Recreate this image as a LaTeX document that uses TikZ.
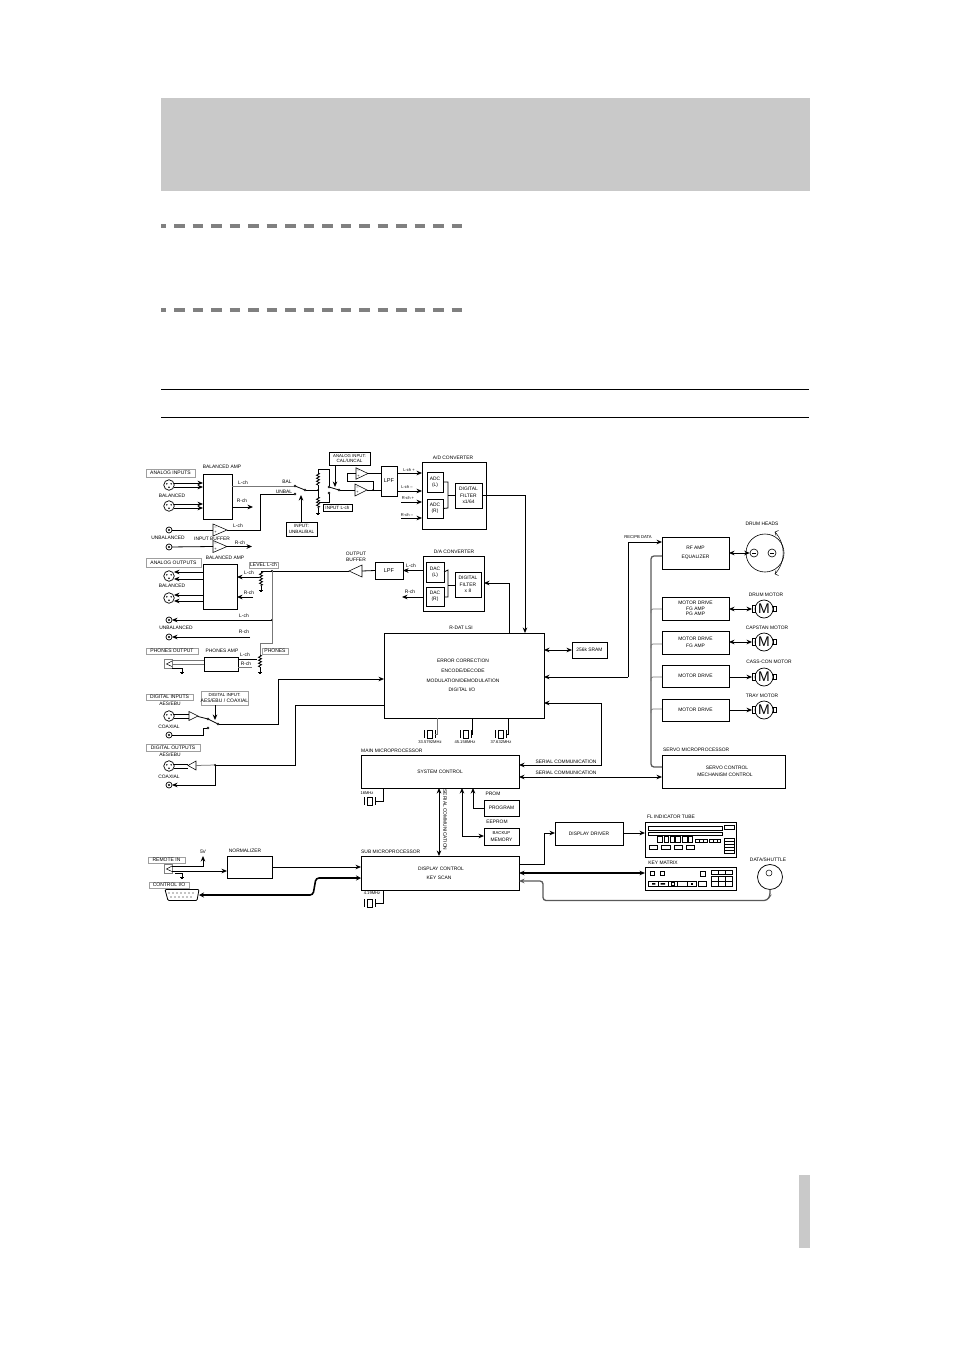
\documentclass[tikz,border=0pt]{standalone}
\usepackage{fontspec}
\setmainfont{Liberation Sans}
\usetikzlibrary{arrows.meta,fit,calc,decorations.pathmorphing}
\definecolor{bandgray}{HTML}{C9C9C9}
\definecolor{dashgray}{HTML}{808080}
\definecolor{thingray}{HTML}{777777}
\newcounter{tc}
\tikzset{
  ln/.style={line width=.8pt},
  gl/.style={line width=.75pt,color=thingray},
  busln/.style={line width=1.3pt,color=thingray!75!black},
  fatln/.style={line width=1.6pt},
  tp/.style={-{Stealth[length=5.5pt,width=4.6pt]}},
  rp/.style={{Stealth[length=5.5pt,width=4.6pt]}-},
  dp/.style={{Stealth[length=5.5pt,width=4.6pt]}-{Stealth[length=5.5pt,width=4.6pt]}},
  lbl/.style={inner sep=0pt,align=center,font=\fontsize{4.9}{6.4}\selectfont},
  tinylbl/.style={inner sep=0pt,align=center,font=\fontsize{4.1}{5}\selectfont},
  bx/.style={draw,line width=.8pt,inner sep=0pt,outer sep=0pt},
  fr/.style={draw=gray!75,line width=.6pt,inner sep=0pt,outer sep=0pt},
  frk/.style={draw,line width=.75pt,inner sep=0pt,outer sep=0pt},
  bxt/.style={inner sep=0pt,align=center,font=\fontsize{4.9}{6.4}\selectfont},
  frt/.style={inner sep=0pt,align=center,font=\fontsize{5}{6}\selectfont},
  kt/.style={inner sep=0pt,align=center,font=\fontsize{4.6}{5.8}\selectfont},
  zig/.style={ln,decorate,decoration={zigzag,amplitude=1.5pt,segment length=3pt}},
  jdot/.style={circle,fill,inner sep=0pt,minimum size=2.4pt},
  cpin/.style={circle,draw,line width=.4pt,inner sep=0pt,minimum size=2pt,fill=white},
  xlrs/.style={circle,draw,line width=.7pt,inner sep=0pt,minimum size=10.5pt,outer sep=0pt},
  jk/.style={circle,draw,line width=.7pt,inner sep=0pt,minimum size=6pt,outer sep=0pt},
  mot/.style={circle,draw,line width=.7pt,inner sep=0pt,minimum size=18pt,outer sep=0pt,font=\fontsize{14}{14}\selectfont},
  dashbar/.style={line width=4pt,color=dashgray,dash pattern=on 10.5pt off 8pt}
}
\newcommand\T[3]{\stepcounter{tc}\node[lbl] (t\thetc) at (#1,#2) {#3};}
\newcommand\Ts[3]{\stepcounter{tc}\node[tinylbl] (t\thetc) at (#1,#2) {#3};}
\newcommand\B[6]{\node[bx,fit={(#2,#3)(#4,#5)}] (#1) {}; \node[bxt] (#1-t) at (#1.center) {#6};}
\newcommand\F[6]{\node[fr,fit={(#2,#3)(#4,#5)}] (#1) {}; \node[frt] (#1-t) at (#1.center) {#6};}
\newcommand\K[6]{\node[frk,fit={(#2,#3)(#4,#5)}] (#1) {}; \node[kt] (#1-t) at (#1.center) {#6};}
\newcommand\XLR[3]{\node[xlrs] (#1) at (#2,#3) {};
  \fill (#2-2.2,#3-1.2) circle (.8pt) (#2+2.2,#3-1.2) circle (.8pt) (#2,#3+2.2) circle (.8pt);}
\newcommand\JK[3]{\node[jk] (#1) at (#2,#3) {}; \fill (#2,#3) circle (1.2pt);}
% op-amp pointing right: name, x left, y centre, half height, x tip
\newcommand\OPR[5]{\coordinate (#1-in) at (#2,#3); \coordinate (#1-out) at (#5,#3);
  \draw[line width=.55pt,fill=white] (#2,#3-#4) -- (#5,#3) -- (#2,#3+#4) -- cycle;}
\newcommand\OPM[5]{\OPR{#1}{#2}{#3}{#4}{#5}
  \node[inner sep=0pt,font=\fontsize{4}{4}\selectfont] at (#2+2.5,#3-2.3) {--};
  \node[inner sep=0pt,font=\fontsize{4}{4}\selectfont] at (#2+2.5,#3+2.5) {+};}
\newcommand\Gnd[2]{\draw[ln] (#1-1.6,#2) -- (#1+1.6,#2) (#1-.9,#2+1) -- (#1+.9,#2+1);}
\newcommand\Xtal[4]{% name, left plate x, y centre, half height
  \draw[ln] (#2,#3-#4) -- (#2,#3+#4) (#2+11,#3-#4) -- (#2+11,#3+#4);
  \draw[line width=.6pt] (#2+3,#3-#4) rectangle (#2+8,#3+#4);
  \coordinate (#1) at (#2+11,#3);}
\newcommand\Motor[3]{\node[mot] (#1) at (#2,#3) {M};
  \node[draw,line width=.7pt,inner sep=0pt,minimum width=3pt,minimum height=7pt,outer sep=0pt] (#1-l) at (#2-10.5,#3) {};
  \node[draw,line width=.7pt,inner sep=0pt,minimum width=3pt,minimum height=4.5pt,outer sep=0pt] (#1-r) at (#2+10.5,#3) {};}
\newcommand\PLJ[3]{\node[draw=gray,line width=.6pt,inner sep=0pt,minimum width=8pt,minimum height=9pt,outer sep=0pt] (#1) at (#2,#3) {};
  \draw[line width=.5pt] (#2+4,#3-3) -- (#2-1.5,#3) -- (#2+4,#3+2.5);}
\begin{document}
\begin{tikzpicture}[x=1pt,y=-1pt]
\useasboundingbox (0,0) rectangle (954,1351);
% page furniture
\fill[bandgray] (161,98) rectangle (810,191);
\fill[bandgray] (799,1175) rectangle (810,1248);
\fill[dashgray] (161,224) rectangle (166,228);
\draw[dashbar] (174,226) -- (463,226);
\fill[dashgray] (161,308) rectangle (166,312);
\draw[dashbar] (174,310) -- (463,310);
\draw[line width=.7pt] (161,389) -- (809,389) (161,417) -- (809,417);

%% ===== analogue inputs
\F{lAI}{146}{469}{195}{477}{ANALOG INPUTS}
\T{222}{467}{BALANCED AMP}
\B{bal1}{203}{474}{232}{519}{}
\XLR{xi1}{169}{485}
\XLR{xi2}{169}{506}
\T{172}{496}{BALANCED}
\foreach \ya in {483,487,504,508}
  \draw[ln,tp] (174,\ya) -- (bal1.west |- 0,\ya);
\JK{ji1}{169}{530}
\JK{ji2}{169}{547}
\T{168}{538}{UNBALANCED}
\T{212}{539}{INPUT BUFFER}
\OPM{ib1}{213}{530}{6}{227}
\OPM{ib2}{213}{546.5}{6}{227}
\draw[ln] (ji1) -- (ib1-in);
\draw[ln] (ji2) -- (ib2-in);
\T{243}{483}{L-ch}
\T{242}{501}{R-ch}
\T{238}{526}{L-ch}
\T{240}{543}{R-ch}
\draw[ln,tp] (bal1.east |- 0,507) -- (253,507);
\draw[ln,tp] (ib2-out) -- (252,546.5);
% input switch
\node[cpin] (c1) at (295,486) {};
\node[cpin] (c2) at (295,494) {};
\node[cpin] (c3) at (305,490) {};
\draw[gl] (bal1.east |- c1) -- (c1);
\draw[ln] (ib1-out) -- (260,530) -- (260,494) -- (c2);
\draw[ln] (c1) -- (c3);
\T{287}{482}{BAL}
\T{284}{492}{UNBAL}
\K{lUB}{286}{522}{317}{536}{INPUT:\\UNBAL/BAL}
\draw[ln,tp] (lUB.north -| 301,0) -- (301,495);
% input level pots
\coordinate (p1t) at (318,469);
\coordinate (p1j) at (318,490);
\coordinate (p1b) at (318,513);
\draw[ln] (c3) -- (p1j);
\draw[ln] (p1t) -- (318,473);
\draw[zig] (318,473) -- (318,485);
\draw[ln] (318,485) -- (318,497);
\draw[zig] (318,497) -- (318,508);
\draw[ln] (318,508) -- (p1b);
\Gnd{318}{513}
\node[jdot,minimum size=2pt] at (p1j) {};
\node[cpin] (d1) at (329,487) {};
\node[cpin] (d2) at (329,493) {};
\node[cpin] (d3) at (339,490) {};
\draw[ln] (p1t) -- (329,469) -- (d1);
\draw[ln] (d2) -- (329,502) -- (319,502);
\draw[ln] (d1) -- (d3);
\K{lCAL}{329}{452}{370}{465}{\fontsize{4.3}{4.8}\selectfont ANALOG INPUT:\\CAL/UNCAL}
\draw[ln,tp] (lCAL.south -| 335,0) -- (335,487);
\K{lIL}{323}{504}{352}{511}{INPUT L-ch}
\OPM{o1}{356}{473.5}{5.7}{368}
\OPM{o2}{355}{490}{6}{367}
\draw[ln] (d3) -- (o2-in);
\coordinate (fbj) at (373,490);
\draw[ln] (356,473) -- (347,473) -- (347,481) -- (373,481) -- (fbj);
\node[jdot,minimum size=2pt] at (fbj) {};
\B{lpf1}{381}{466}{397}{496}{\fontsize{5.6}{6}\selectfont LPF}
\draw[ln] (o1-out) -- (lpf1.west |- o1-out);
\draw[ln] (o2-out) -- (lpf1.west |- o2-out);
%% A/D
\T{453}{458}{A/D CONVERTER}
\B{ad}{422}{462}{486}{529}{}
\B{adcl}{427}{472}{443}{492}{ADC\\(L)}
\B{adcr}{427}{499}{443}{518}{ADC\\(R)}
\B{dfa}{455}{483}{482}{508}{DIGITAL\\FILTER\\x1/64}
\draw[ln,tp] (lpf1.east |- 0,473) -- (ad.west |- 0,473);
\draw[ln,tp] (lpf1.east |- 0,491) -- (ad.west |- 0,491);
\draw[ln,tp] (401,502) -- (ad.west |- 0,502);
\draw[ln,tp] (401,518) -- (ad.west |- 0,518);
\Ts{409}{470}{L-ch +}
\Ts{407}{487}{L-ch --}
\Ts{408}{498}{R-ch +}
\Ts{407}{515}{R-ch --}
\draw[ln] (adcl.east) -- (448,482) -- (448,508) -- (adcr.east);
\draw[ln] (448,495.5) -- (dfa.west |- 0,495.5);
%% analogue outputs
\F{lAO}{146}{558}{201}{567}{ANALOG OUTPUTS}
\T{225}{558}{BALANCED AMP}
\B{bal2}{203}{564}{237}{609}{}
\XLR{xo1}{169}{576}
\XLR{xo2}{169}{598}
\T{172}{586}{BALANCED}
\foreach \ya in {572,579,595,601}
  \draw[ln,tp] (bal2.west |- 0,\ya) -- (174,\ya);
\F{lLV}{249}{562}{278}{568}{LEVEL L-ch}
\coordinate (lvt) at (261,571);
\coordinate (jn1) at (272,571);
\draw[ln] (lvt) -- (jn1);
\draw[zig] (261,572) -- (261,586);
\draw[ln] (261,586) -- (261,590);
\Gnd{261}{590}
\draw[ln,tp] (259,577) -- (bal2.east |- 0,577);
\draw[ln,tp] (253,597) -- (bal2.east |- 0,597);
\T{249}{573}{L-ch}
\T{249}{593}{R-ch}
\node[jdot] at (jn1) {};
%% output buffer, LPF, D/A
\T{356}{557}{OUTPUT\\BUFFER}
\coordinate (ob-in) at (362,571);
\coordinate (ob-out) at (349,571);
\draw[line width=.55pt,fill=white] (362,565) -- (349,571) -- (362,577) -- cycle;
\draw[ln] (jn1) -- (ob-out);
\B{lpf2}{375}{562}{403}{579}{\fontsize{5.6}{6}\selectfont LPF}
\draw[ln] (ob-in) -- (lpf2.west);
\T{454}{552}{D/A CONVERTER}
\B{da}{423}{556}{484}{611}{}
\B{dacl}{426}{562}{444}{582}{DAC\\(L)}
\B{dacr}{426}{587}{444}{606}{DAC\\(R)}
\B{dfd}{455}{572}{481}{597}{DIGITAL\\FILTER\\x 8}
\draw[ln,tp] (da.west |- lpf2.east) -- (lpf2.east);
\draw[ln,tp] (da.west |- 0,597) -- (402,597);
\T{411}{566}{L-ch}
\T{410}{592}{R-ch}
\draw[ln] (dacl.east) -- (448,570) -- (448,597) -- (dacr.east |- 0,597);
\draw[ln] (448,585) -- (dfd.west |- 0,585);
%% unbalanced and phones
\JK{ju1}{169}{620}
\JK{ju2}{169}{637}
\T{176}{628}{UNBALANCED}
\coordinate (jn2) at (272,620);
\draw[ln,tp] (jn2) -- (ju1.east);
\draw[ln,tp] (250,637) -- (ju2.east);
\node[jdot] at (jn2) {};
\T{244}{616}{L-ch}
\T{244}{632}{R-ch}
\draw[gl] (jn1) -- (272,643) -- (260,643) -- (260,655);
\F{lPO}{146}{648}{198}{654}{PHONES OUTPUT}
\T{222}{651}{PHONES AMP}
\B{pha}{204}{657}{238}{671}{}
\F{lPH}{262}{648}{288}{654}{PHONES}
\draw[zig] (260,655) -- (260,667);
\draw[ln] (260,667) -- (260,672);
\Gnd{260}{672}
\draw[ln] (pha.east |- 0,659) -- (257,659);
\draw[gl] (pha.east |- 0,667) -- (252,667);
\T{245}{655}{L-ch}
\T{246}{664}{R-ch}
\PLJ{pj}{168}{664}
\draw[gl] (172,660) -- (pha.west |- 0,660);
\draw[gl] (172,664) -- (pha.west |- 0,664);
\draw[ln] (172,668) -- (182,668) -- (182,672);
\Gnd{182}{672}
%% digital in
\F{lDI}{146}{694}{193}{700}{DIGITAL INPUTS}
\T{170}{704}{AES/EBU}
\F{lDS}{201}{691}{248}{705}{\fontsize{4.4}{6}\selectfont DIGITAL INPUT:\\AES/EBU / COAXIAL}
\XLR{xd1}{169}{716}
\OPR{di}{189}{716}{4.5}{198}
\draw[ln] (174,714) -- (189,714) (174,718) -- (189,718);
\node[cpin] (s1) at (208,719) {};
\node[cpin] (s2) at (208,728) {};
\node[cpin] (s3) at (218,724) {};
\draw[ln] (di-out) -- (198,716.5) -- (s1);
\draw[ln] (s1) -- (s3);
\draw[ln,tp] (lDS.south -| 215,0) -- (215,720);
\T{169}{727}{COAXIAL}
\JK{jd1}{169}{735}
\draw[ln] (jd1) -- (203,735) -- (203,728) -- (s2);
%% digital out
\F{lDO}{146}{744}{200}{751}{DIGITAL OUTPUTS}
\T{170}{755}{AES/EBU}
\XLR{xd2}{169}{766}
\OPR{dob}{196}{765.5}{4.5}{188}
\draw[ln] (174,764) -- (188,764) (174,768) -- (188,768);
\T{169}{777}{COAXIAL}
\JK{jd2}{169}{785}
\coordinate (jn3) at (215,765);
\node[jdot] at (jn3) {};
\draw[ln,tp] (jn3) -- (215,785) -- (jd2.east);
%% LSI
\T{461}{628}{R-DAT LSI}
\B{lsi}{384}{633}{544}{718}{}
\T{463}{661}{ERROR CORRECTION}
\T{463}{671}{ENCODE/DECODE}
\T{463}{681}{MODULATION/DEMODULATION}
\T{462}{690}{DIGITAL I/O}
\draw[ln,tp] (s3) -- (278,724) -- (278,679) -- (lsi.west |- 0,679);
\draw[gl] (dob-in) -- (jn3);
\draw[ln] (jn3) -- (295,765) -- (295,705) -- (lsi.west |- 0,705);
\draw[ln] (dfa.east) -- (ad.east |- dfa.east);
\draw[ln,tp] (ad.east |- dfa.east) -- (525,495.5) -- (525,633);
\draw[ln,tp] (lsi.north -| 509,0) -- (509,583) -- (da.east |- 0,583);
\B{sram}{572}{642}{607}{658}{256k SRAM}
\draw[ln,dp] (lsi.east |- sram.west) -- (sram.west);
% crystals
\Xtal{xa}{424}{734}{3.8}
\Xtal{xb}{460}{734}{3.8}
\Xtal{xc}{495}{734}{3.8}
\draw[gl] (xa) -- (437,734) -- (lsi.south -| 437,0);
\draw[ln] (xb) -- (472,734) -- (lsi.south -| 472,0);
\draw[ln] (xc) -- (508,734) -- (lsi.south -| 508,0);
\Ts{430}{742}{33.5792MHz}
\Ts{465}{742}{45.158MHz}
\Ts{501}{742}{37.632MHz}
%% main micro
\node[lbl,anchor=west] (tmm) at (361,751) {MAIN MICROPROCESSOR};
\B{sys}{361}{755}{519}{788}{SYSTEM CONTROL}
\T{566}{762}{SERIAL COMMUNICATION}
\T{566}{773}{SERIAL COMMUNICATION}
\draw[ln,dp] (sys.east |- 0,765) -- (601,765) -- (601,703) -- (lsi.east |- 0,703);
\Ts{367}{793}{16MHz}
\Xtal{xm}{364}{801}{3.8}
\draw[ln] (xm) -- (383,801) -- (sys.south -| 383,0);
\node[lbl,rotate=-90] (tsc) at (445,820) {SERIAL COMMUNICATION};
\B{prog}{484}{800}{519}{816}{PROGRAM}
\T{493}{794}{PROM}
\T{497}{822}{EEPROM}
\B{bmem}{484}{828}{519}{845}{\fontsize{4.3}{6}\selectfont BACKUP\\MEMORY}
\draw[ln,tp] (prog.west |- 0,808) -- (473,808) -- (sys.south -| 473,0);
\draw[ln,dp] (sys.south -| 462,0) -- (462,836) -- (bmem.west |- 0,836);
%% sub micro
\node[lbl,anchor=west] (tsm) at (361,852) {SUB MICROPROCESSOR};
\B{sub}{361}{856}{519}{890}{}
\T{441}{869}{DISPLAY CONTROL}
\T{439}{878}{KEY SCAN}
\draw[ln,dp] (sys.south -| 439,0) -- (sub.north -| 439,0);
\T{245}{851}{NORMALIZER}
\B{norm}{227}{856}{272}{878}{}
\draw[ln,tp] (norm.east |- 0,867) -- (sub.west |- 0,867);
\F{lRI}{148}{857}{185}{863}{REMOTE IN}
\T{203}{852}{5V}
\PLJ{rj}{168}{869}
\draw[ln,tp] (172,866) -- (203,866) -- (203,856);
\draw[ln,tp] (172,871) -- (norm.west |- 0,871);
\draw[ln] (175,873) -- (182,873) -- (182,877);
\Gnd{182}{877}
\F{lCI}{149}{882}{189}{888}{CONTROL I/O}
\draw[line width=.8pt,fill=white,rounded corners=1pt] (165,889.5) -- (199,889.5) -- (197,900.5) -- (168,900.5) -- cycle;
\foreach \xa in {169,173,...,193} \fill (\xa,893) circle (.55pt);
\foreach \xa in {171,175,...,191} \fill (\xa,897) circle (.55pt);
\coordinate (dsub) at (199,895);
\draw[fatln,rounded corners=3pt,{Stealth[length=5pt,width=5pt]}-{Stealth[length=5pt,width=5pt]}] (dsub) -- (313,895) -- (316,878) -- (sub.west |- 0,878);
\Ts{372}{893}{4.19MHz}
\Xtal{xs}{364}{903}{3.8}
\draw[ln] (xs) -- (383,903) -- (sub.south -| 383,0);
%% display driver
\B{dd}{555}{822}{623}{845}{DISPLAY DRIVER}
\draw[ln,tp] (sub.east |- 0,864) -- (544,864) -- (544,833) -- (dd.west |- 0,833);
%% FL tube
\T{671}{817}{FL INDICATOR TUBE}
\B{fl}{645}{822}{736}{857}{}
\draw[ln,tp] (dd.east |- 0,833) -- (fl.west |- 0,833);
\begin{scope}[shift={(590,800)},x=.3333pt,y=-.3333pt,line width=.55pt]
\draw (175,78) rectangle (398,90) (175,97) rectangle (398,107) (402,75) rectangle (433,88);
\foreach \xa/\xb in {202/218,222/235,240/253,255/270,278/292,295/308} \draw (\xa,108) rectangle (\xb,128);
\draw (317,117) rectangle (352,128) (358,117) rectangle (392,128);
\draw (329,117) -- (329,128) (340,117) -- (340,128) (370,117) -- (370,128) (381,117) -- (381,128);
\foreach \xa/\xb in {178/202,215/240,253/277,290/313} \draw (\xa,135) rectangle (\xb,147);
\draw (403,115) rectangle (433,160) (403,124) -- (433,124) (403,133) -- (433,133) (403,142) -- (433,142) (403,151) -- (433,151);
\end{scope}
%% Key matrix
\T{663}{863}{KEY MATRIX}
\B{km}{645}{867}{736}{890}{}
\draw[fatln,dp] (sub.east |- 0,873) -- (km.west |- 0,873);
\begin{scope}[shift={(590,800)},x=.3333pt,y=-.3333pt,line width=.55pt]
\draw (182,213) rectangle (192,225) (210,213) rectangle (222,225) (332,213) rectangle (345,228);
\draw (363,210) rectangle (428,222) (385,210) -- (385,222) (406,210) -- (406,222);
\draw (363,228) rectangle (428,260) (363,244) -- (428,244) (385,228) -- (385,260) (406,228) -- (406,260);
\draw (175,243) rectangle (320,260) (205,243) -- (205,260) (235,243) -- (235,260) (262,243) -- (262,260) (292,243) -- (292,260);
\draw (325,243) rectangle (350,260);
\draw (245,248) rectangle (253,255);
\fill (303,249) rectangle (308,254);
\fill (186,249) rectangle (196,254) (212,249) rectangle (225,254);
\end{scope}
%% shuttle
\T{768}{860}{DATA/SHUTTLE}
\node[circle,draw,line width=.75pt,minimum size=25pt,inner sep=0pt,outer sep=0pt] (knob) at (770,877) {};
\node[circle,draw,line width=.5pt,minimum size=6pt,inner sep=0pt] (knobd) at (769,873) {};
\draw[busln,rp,rounded corners=3pt] (sub.east |- 0,881) -- (543,881) -- (543,900.5) -- (767,900.5) -- (770,896) -- (knob.south);
%% servo side
\B{rf}{662}{537}{729}{569}{RF AMP\\[3pt]EQUALIZER}
\B{m1}{662}{597}{729}{620}{MOTOR DRIVE\\[-.6pt]FG AMP\\[-.6pt]PG AMP}
\B{m2}{662}{631}{729}{654}{MOTOR DRIVE\\[1pt]FG AMP}
\B{m3}{662}{665}{729}{687}{MOTOR DRIVE}
\B{m4}{662}{699}{729}{721}{MOTOR DRIVE}
\node[lbl,anchor=west] (tsv) at (663,750) {SERVO MICROPROCESSOR};
\B{srv}{662}{755}{785}{788}{}
\T{727}{768}{SERVO CONTROL}
\T{725}{775}{MECHANISM CONTROL}
\draw[ln,dp] (sys.east |- 0,777) -- (srv.west |- 0,777);
\draw[ln,tp] (628,677) -- (628,542) -- (rf.west |- 0,542);
\draw[ln,tp] (628,677) -- (lsi.east |- 0,677);
\T{638}{537}{\fontsize{4.2}{5}\selectfont REC/PB DATA}
\draw[busln,rounded corners=3pt] (rf.west |- 0,556) -- (651,556) -- (651,767) -- (srv.west |- 0,767);
\draw[gl,rounded corners=2pt] (651,613) -- (651,609) -- (m1.west |- 0,609);
\draw[gl,rounded corners=2pt] (651,648) -- (651,644) -- (m2.west |- 0,644);
\draw[gl,rounded corners=2pt] (651,681) -- (651,677) -- (m3.west |- 0,677);
\draw[gl,rounded corners=2pt] (651,713) -- (651,709) -- (m4.west |- 0,709);
% drum
\T{762}{524}{DRUM HEADS}
\node[circle,draw,line width=.6pt,minimum size=38pt,inner sep=0pt,outer sep=0pt] (drum) at (765,553) {};
\node[circle,draw,line width=.6pt,minimum size=8pt,inner sep=0pt] (h1) at (754,553) {};
\node[circle,draw,line width=.6pt,minimum size=8pt,inner sep=0pt] (h2) at (772,553) {};
\draw[line width=.5pt] (752,553) -- (756,553) (770,553) -- (774,553);
\draw[line width=.5pt] (775,532) to[bend left=42] (775,574);
\draw[line width=.5pt] (775,532) -- (778.5,530.5) (775,532) -- (776,535.5);
\draw[line width=.5pt] (775,574) -- (778.5,575.5) (775,574) -- (776,570.5);
\draw[ln,dp] (rf.east |- drum.west) -- (h1.west);
% motors
\T{766}{595}{DRUM MOTOR}
\Motor{mo1}{764}{609}
\draw[ln,dp] (m1.east |- 0,609) -- (mo1-l.west);
\T{767}{628}{CAPSTAN MOTOR}
\Motor{mo2}{764}{642}
\draw[ln,dp] (m2.east |- 0,642) -- (mo2-l.west);
\T{769}{662}{CASS-CON MOTOR}
\Motor{mo3}{764}{677}
\draw[ln,tp] (m3.east |- 0,677) -- (mo3-l.west);
\T{762}{696}{TRAY MOTOR}
\Motor{mo4}{764}{710}
\draw[ln,tp] (m4.east |- 0,710) -- (mo4-l.west);
\end{tikzpicture}
\end{document}
